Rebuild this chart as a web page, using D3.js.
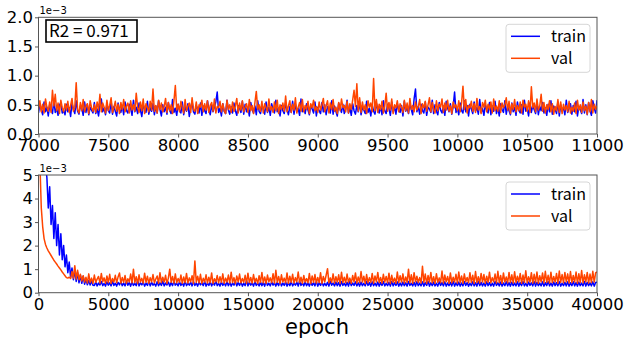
<!DOCTYPE html>
<html>
<head>
<meta charset="utf-8">
<script src="https://cdn.jsdelivr.net/npm/d3@7"></script>
<style>
  body { margin: 0; background: #fff; }
  svg { display: block; }
  text { font-family: "DejaVu Sans", sans-serif; fill: #000; }
</style>
</head>
<body>
<div id="chart"></div>
<script>
// loss values are in units of 1e-3
const topStart = 7000, topStep = 10;
const topTrain = [
  0.36,0.52,0.41,0.33,0.55,0.38,0.46,0.31,0.50,0.43,0.35,0.58,0.37,0.44,0.32,0.49,0.54,0.36,0.40,0.33,
  0.51,0.38,0.45,0.30,0.53,0.42,0.35,0.57,0.39,0.34,0.48,0.44,0.32,0.55,0.37,0.50,0.33,0.46,0.41,0.36,
  0.54,0.35,0.43,0.31,0.49,0.60,0.38,0.45,0.33,0.52,0.40,0.36,0.56,0.34,0.47,0.39,0.31,0.53,0.42,0.37,
  0.49,0.33,0.55,0.40,0.36,0.51,0.44,0.32,0.58,0.38,0.46,0.35,0.53,0.41,0.30,0.50,0.43,0.37,0.56,0.34,
  0.45,0.39,0.52,0.33,0.48,0.36,0.57,0.42,0.31,0.50,0.38,0.46,0.34,0.54,0.40,0.35,0.59,0.37,0.44,0.32,
  0.51,0.41,0.36,0.55,0.33,0.47,0.39,0.52,0.30,0.45,0.56,0.38,0.34,0.49,0.43,0.36,0.53,0.32,0.48,0.40,
  0.35,0.57,0.42,0.33,0.50,0.38,0.46,0.55,0.72,0.37,0.44,0.31,0.52,0.39,0.35,0.58,0.41,0.34,0.47,0.36,
  0.53,0.40,0.32,0.49,0.44,0.37,0.56,0.34,0.51,0.38,0.45,0.31,0.54,0.42,0.36,0.48,0.33,0.57,0.39,0.35,
  0.50,0.43,0.34,0.55,0.37,0.46,0.32,0.52,0.41,0.36,0.58,0.38,0.44,0.31,0.49,0.40,0.35,0.53,0.42,0.33,
  0.47,0.37,0.56,0.34,0.51,0.39,0.44,0.32,0.60,0.38,0.45,0.35,0.52,0.41,0.33,0.49,0.43,0.36,0.55,0.31,
  0.46,0.40,0.35,0.54,0.38,0.50,0.33,0.47,0.42,0.36,0.57,0.34,0.48,0.39,0.31,0.53,0.44,0.37,0.51,0.35,
  0.43,0.58,0.36,0.45,0.32,0.52,0.40,0.34,0.49,0.38,0.55,0.33,0.46,0.41,0.35,0.56,0.37,0.44,0.31,0.50,
  0.39,0.34,0.53,0.42,0.36,0.48,0.33,0.57,0.40,0.35,0.51,0.44,0.32,0.55,0.38,0.46,0.34,0.52,0.41,0.37,
  0.49,0.31,0.56,0.39,0.45,0.35,0.53,0.42,0.33,0.60,0.77,0.38,0.47,0.34,0.51,0.40,0.36,0.55,0.32,0.46,
  0.43,0.37,0.58,0.35,0.50,0.39,0.33,0.54,0.41,0.36,0.48,0.32,0.56,0.44,0.38,0.52,0.34,0.47,0.72,0.37,
  0.45,0.33,0.53,0.40,0.36,0.57,0.38,0.49,0.31,0.51,0.43,0.35,0.55,0.39,0.46,0.34,0.59,0.37,0.44,0.32,
  0.50,0.41,0.36,0.54,0.33,0.48,0.39,0.56,0.35,0.45,0.31,0.52,0.42,0.37,0.57,0.34,0.47,0.40,0.33,0.53,
  0.38,0.46,0.32,0.55,0.41,0.36,0.50,0.34,0.58,0.39,0.44,0.31,0.53,0.37,0.49,0.42,0.35,0.56,0.33,0.47,
  0.40,0.54,0.36,0.45,0.32,0.51,0.38,0.57,0.34,0.48,0.43,0.35,0.55,0.31,0.50,0.39,0.46,0.33,0.58,0.37,
  0.44,0.52,0.34,0.49,0.38,0.56,0.31,0.47,0.42,0.35,0.59,0.36,0.50,0.33,0.54,0.40,0.32,0.57,0.45,0.36,
  0.58
];
const topVal = [
  0.42,0.57,0.38,0.51,0.36,0.60,0.46,0.39,0.55,0.37,0.75,0.48,0.68,0.40,0.53,0.35,0.58,0.45,0.38,0.52,
  0.41,0.56,0.37,0.49,0.61,0.39,0.46,0.88,0.42,0.36,0.54,0.40,0.59,0.38,0.47,0.52,0.35,0.57,0.45,0.39,
  0.50,0.37,0.55,0.41,0.68,0.38,0.53,0.46,0.36,0.58,0.40,0.49,0.62,0.37,0.45,0.56,0.39,0.51,0.35,0.54,
  0.42,0.59,0.38,0.48,0.53,0.36,0.57,0.41,0.50,0.39,0.70,0.46,0.37,0.55,0.40,0.60,0.35,0.52,0.45,0.38,
  0.56,0.41,0.77,0.39,0.49,0.36,0.58,0.42,0.53,0.38,0.47,0.61,0.37,0.54,0.40,0.50,0.35,0.57,0.83,0.41,
  0.51,0.38,0.56,0.45,0.36,0.59,0.40,0.48,0.53,0.37,0.62,0.42,0.39,0.55,0.35,0.50,0.46,0.58,0.38,0.52,
  0.41,0.57,0.37,0.49,0.54,0.39,0.60,0.36,0.47,0.45,0.56,0.38,0.52,0.40,0.35,0.58,0.42,0.50,0.37,0.55,
  0.39,0.48,0.61,0.36,0.53,0.41,0.57,0.38,0.46,0.52,0.37,0.59,0.40,0.49,0.35,0.54,0.73,0.42,0.50,0.39,
  0.56,0.36,0.52,0.45,0.38,0.60,0.41,0.47,0.37,0.55,0.40,0.58,0.35,0.50,0.42,0.53,0.39,0.65,0.38,0.48,
  0.57,0.37,0.51,0.41,0.62,0.36,0.46,0.54,0.39,0.59,0.38,0.49,0.42,0.56,0.35,0.52,0.45,0.58,0.40,0.47,
  0.37,0.55,0.41,0.50,0.61,0.38,0.48,0.57,0.36,0.53,0.42,0.59,0.39,0.46,0.35,0.54,0.40,0.60,0.45,0.49,
  0.38,0.56,0.36,0.52,0.42,0.58,0.75,0.47,0.86,0.39,0.62,0.37,0.55,0.41,0.50,0.35,0.57,0.46,0.53,0.38,
  0.95,0.40,0.59,0.37,0.51,0.42,0.56,0.36,0.48,0.70,0.39,0.54,0.41,0.60,0.35,0.50,0.45,0.57,0.38,0.52,
  0.46,0.37,0.58,0.40,0.53,0.36,0.61,0.42,0.49,0.38,0.55,0.41,0.47,0.59,0.35,0.52,0.45,0.56,0.39,0.50,
  0.62,0.38,0.54,0.42,0.36,0.57,0.40,0.51,0.46,0.60,0.37,0.53,0.41,0.58,0.39,0.48,0.35,0.55,0.45,0.50,
  0.40,0.57,0.38,0.53,0.82,0.42,0.59,0.36,0.49,0.45,0.56,0.39,0.52,0.37,0.61,0.41,0.47,0.35,0.54,0.46,
  0.58,0.38,0.51,0.42,0.55,0.36,0.60,0.40,0.48,0.39,0.57,0.37,0.53,0.45,0.50,0.62,0.41,0.56,0.35,0.52,
  0.42,0.59,0.38,0.49,0.40,0.55,0.36,0.58,0.46,0.51,0.39,0.57,0.37,0.81,0.45,0.53,0.38,0.60,0.41,0.48,
  0.68,0.39,0.54,0.36,0.50,0.42,0.57,0.38,0.52,0.34,0.47,0.40,0.59,0.37,0.55,0.35,0.51,0.41,0.49,0.38,
  0.56,0.36,0.46,0.39,0.53,0.35,0.58,0.41,0.50,0.37,0.55,0.40,0.48,0.34,0.54,0.38,0.59,0.36,0.51,0.42,
  0.49
];

const bottomStart = 0, bottomStep = 100;
const bottomTrain = [
  12.0,10.0,8.5,7.2,6.2,5.4,4.9,3.6,4.5,2.9,3.7,2.3,3.4,2.0,2.9,1.6,2.5,1.4,2.0,1.1,
  1.6,0.85,1.3,0.65,1.05,0.55,0.95,0.48,0.85,0.42,0.75,0.40,0.70,0.36,0.58,0.34,0.52,0.33,0.50,0.32,
  0.31,0.45,0.29,0.41,0.33,0.48,0.30,0.39,0.28,0.46,0.32,0.42,0.29,0.50,0.31,0.40,0.28,0.44,0.33,0.47,
  0.30,0.41,0.29,0.49,0.32,0.43,0.28,0.46,0.31,0.39,0.30,0.52,0.29,0.42,0.33,0.45,0.28,0.40,0.31,0.48,
  0.29,0.44,0.32,0.39,0.28,0.47,0.30,0.42,0.31,0.50,0.29,0.41,0.33,0.45,0.28,0.43,0.30,0.48,0.32,0.40,
  0.29,0.46,0.31,0.42,0.28,0.49,0.30,0.40,0.32,0.44,0.29,0.47,0.31,0.41,0.28,0.45,0.33,0.43,0.30,0.48,
  0.28,0.41,0.31,0.46,0.29,0.43,0.32,0.50,0.30,0.40,0.28,0.45,0.31,0.42,0.29,0.47,0.30,0.44,0.28,0.41,
  0.32,0.48,0.29,0.43,0.31,0.46,0.28,0.40,0.30,0.51,0.29,0.44,0.32,0.42,0.28,0.47,0.31,0.41,0.29,0.45,
  0.30,0.43,0.28,0.49,0.31,0.40,0.29,0.46,0.32,0.42,0.28,0.44,0.30,0.48,0.29,0.41,0.31,0.45,0.28,0.43,
  0.30,0.47,0.29,0.40,0.32,0.44,0.28,0.50,0.31,0.42,0.29,0.46,0.30,0.41,0.28,0.45,0.31,0.43,0.29,0.48,
  0.28,0.42,0.31,0.46,0.29,0.40,0.30,0.44,0.28,0.49,0.32,0.41,0.29,0.45,0.30,0.43,0.28,0.47,0.31,0.40,
  0.29,0.44,0.28,0.48,0.30,0.41,0.31,0.46,0.29,0.42,0.28,0.45,0.30,0.40,0.29,0.49,0.31,0.43,0.28,0.46,
  0.30,0.41,0.29,0.45,0.28,0.43,0.31,0.47,0.29,0.40,0.30,0.44,0.28,0.48,0.29,0.42,0.31,0.46,0.28,0.41,
  0.29,0.45,0.30,0.42,0.28,0.48,0.31,0.40,0.29,0.44,0.28,0.47,0.30,0.41,0.29,0.46,0.28,0.43,0.31,0.49,
  0.28,0.42,0.30,0.45,0.29,0.40,0.28,0.47,0.31,0.43,0.29,0.46,0.28,0.41,0.30,0.44,0.29,0.48,0.28,0.42,
  0.30,0.45,0.28,0.41,0.29,0.47,0.31,0.43,0.28,0.40,0.30,0.46,0.29,0.42,0.28,0.49,0.30,0.44,0.29,0.41,
  0.28,0.46,0.30,0.43,0.29,0.40,0.28,0.48,0.31,0.42,0.29,0.45,0.28,0.41,0.30,0.47,0.29,0.43,0.28,0.44,
  0.30,0.41,0.29,0.46,0.28,0.43,0.30,0.48,0.29,0.40,0.28,0.45,0.31,0.42,0.29,0.47,0.28,0.44,0.30,0.41,
  0.29,0.46,0.28,0.42,0.30,0.48,0.29,0.41,0.28,0.45,0.30,0.43,0.29,0.47,0.28,0.40,0.30,0.44,0.29,0.46,
  0.28,0.42,0.30,0.47,0.29,0.43,0.28,0.45,0.30,0.41,0.29,0.48,0.28,0.44,0.30,0.42,0.29,0.46,0.28,0.43,
  0.45
];
const bottomVal = [
  9.0,5.5,3.6,2.8,2.3,2.05,1.9,1.78,1.68,1.58,1.48,1.38,1.30,1.22,1.13,1.05,0.97,0.88,0.80,0.72,
  0.64,0.62,0.66,0.60,0.90,0.62,1.15,0.58,0.95,0.55,0.78,0.50,0.72,0.45,0.66,0.41,0.80,0.43,0.62,0.40,
  0.75,0.44,0.58,0.69,0.41,0.82,0.46,0.63,0.40,0.71,0.43,0.78,0.39,0.60,0.45,0.74,0.42,0.67,0.84,0.41,
  0.65,0.44,0.73,0.40,0.59,0.46,0.79,0.42,1.00,0.43,0.68,0.39,0.76,0.45,0.61,0.41,0.83,0.44,0.70,0.40,
  0.64,0.46,0.77,0.42,0.58,0.71,0.40,0.85,0.43,0.66,0.45,0.74,0.39,0.62,1.00,0.44,0.69,0.41,0.80,0.42,
  0.60,0.45,0.75,0.40,0.67,0.43,0.82,0.41,0.63,0.46,0.72,0.39,1.35,0.44,0.70,0.42,0.78,0.40,0.61,0.45,
  0.76,0.41,0.66,0.43,0.84,0.39,0.59,0.46,0.73,0.42,0.68,0.44,0.80,0.40,0.62,0.45,0.75,0.41,0.87,0.43,
  0.64,0.39,0.71,0.46,0.79,0.42,0.60,0.44,0.74,0.40,0.83,0.43,0.65,0.41,0.77,0.45,0.61,0.39,0.72,0.44,
  0.86,0.42,0.67,0.40,0.75,0.46,0.63,0.43,0.81,0.41,0.95,0.44,0.69,0.39,0.76,0.45,0.62,0.42,0.84,0.40,
  0.70,0.44,0.78,0.41,0.64,0.46,0.88,0.43,0.66,0.40,0.73,0.45,0.60,0.42,0.82,0.39,0.71,0.44,0.77,0.41,
  0.65,0.43,0.85,0.40,0.69,0.46,0.74,1.02,0.42,0.63,0.44,0.80,0.41,0.68,0.45,0.76,0.39,0.87,0.43,0.66,
  0.42,0.79,0.44,0.62,0.40,0.73,0.46,0.84,0.41,0.67,0.43,0.90,0.45,0.70,0.39,0.77,0.42,0.64,0.44,0.82,
  0.40,0.71,0.46,0.86,0.43,0.65,0.41,0.78,0.45,0.69,0.42,0.83,0.39,0.74,0.44,0.62,0.40,0.88,0.43,0.72,
  0.45,0.80,0.41,0.67,0.44,1.00,0.42,0.76,0.40,0.85,0.46,0.70,0.43,0.64,0.41,1.12,0.44,0.79,0.39,0.73,
  0.45,0.86,0.42,0.68,0.40,0.81,0.44,0.63,0.43,0.92,0.41,0.75,0.46,0.69,0.40,0.84,0.42,0.66,0.45,0.78,
  0.41,0.88,0.43,0.71,0.40,0.80,0.46,0.65,0.42,0.85,0.44,0.74,0.39,0.90,0.43,0.68,0.41,0.82,0.45,0.77,
  0.40,0.70,0.44,0.87,0.42,0.64,0.46,0.79,0.41,0.91,0.43,0.73,0.40,0.84,0.45,0.67,0.42,0.86,0.44,0.76,
  0.41,0.89,0.43,0.70,0.46,0.82,0.40,0.75,0.44,0.93,0.42,0.68,0.45,0.85,0.41,0.78,0.43,0.88,0.40,0.72,
  0.46,0.84,0.42,0.91,0.44,0.74,0.41,0.87,0.43,0.69,0.45,0.82,0.40,0.92,0.44,0.77,0.42,0.86,0.46,0.80,
  0.41,0.90,0.43,0.73,0.45,0.88,0.40,0.81,0.44,0.94,0.42,0.76,0.46,0.86,0.41,0.79,0.43,0.91,0.45,0.84,
  0.88
];

const topXTicks = [7000, 7500, 8000, 8500, 9000, 9500, 10000, 10500, 11000];
const topYTicks = [0.0, 0.5, 1.0, 1.5, 2.0];
const bottomXTicks = [0, 5000, 10000, 15000, 20000, 25000, 30000, 35000, 40000];
const bottomYTicks = [0, 1, 2, 3, 4, 5];
const seriesNames = ['train', 'val'];
const colors = { train: '#0000ff', val: '#ff4500' };
const r2Text = 'R2 = 0.971';

const W = 625, H = 342;
const svg = d3.select('#chart').append('svg').attr('width', W).attr('height', H);

function toPoints(values, start, step) {
  return values.map((v, i) => ({ x: start + i * step, y: v }));
}

function drawPanel(opts) {
  const { id, top, bottom, xDomain, yDomain, xTicks, yTicks, yFmt, train, val, start, step } = opts;
  const left = 38.5, right = 597;
  const x = d3.scaleLinear().domain(xDomain).range([left, right]);
  const y = d3.scaleLinear().domain(yDomain).range([bottom, top]);

  svg.append('clipPath').attr('id', id)
    .append('rect').attr('x', left).attr('y', top)
    .attr('width', right - left).attr('height', bottom - top);

  const line = d3.line().x(d => x(d.x)).y(d => y(d.y));
  const plot = svg.append('g').attr('clip-path', `url(#${id})`);
  plot.append('path').datum(toPoints(train, start, step))
    .attr('fill', 'none').attr('stroke', colors.train).attr('stroke-width', 1.5)
    .attr('stroke-linejoin', 'round').attr('d', line);
  plot.append('path').datum(toPoints(val, start, step))
    .attr('fill', 'none').attr('stroke', colors.val).attr('stroke-width', 1.5)
    .attr('stroke-linejoin', 'round').attr('d', line);

  // frame
  svg.append('rect').attr('x', left).attr('y', top)
    .attr('width', right - left).attr('height', bottom - top)
    .attr('fill', 'none').attr('stroke', '#555').attr('stroke-width', 1);

  const xAxis = svg.append('g').attr('transform', `translate(0,${bottom})`)
    .call(d3.axisBottom(x).tickValues(xTicks).tickSize(3.5).tickPadding(2).tickFormat(d3.format('d')));
  xAxis.select('.domain').remove();
  xAxis.selectAll('line').attr('stroke', '#555');
  xAxis.selectAll('text').attr('font-size', 16.5).style('font-family', '"DejaVu Sans", sans-serif');

  const yAxis = svg.append('g').attr('transform', `translate(${left},0)`)
    .call(d3.axisLeft(y).tickValues(yTicks).tickSize(3.5).tickPadding(2).tickFormat(yFmt));
  yAxis.select('.domain').remove();
  yAxis.selectAll('line').attr('stroke', '#555');
  yAxis.selectAll('text').attr('font-size', 16.5).style('font-family', '"DejaVu Sans", sans-serif');

  svg.append('text').attr('x', left + 1).attr('y', top - 3)
    .attr('font-size', 10).text('1e\u22123');

  // legend
  const lg = svg.append('g').attr('transform', `translate(506,${top + 7})`);
  lg.append('rect').attr('width', 84).attr('height', 48).attr('rx', 3)
    .attr('fill', '#fff').attr('fill-opacity', 0.8)
    .attr('stroke', '#d6d6d6').attr('stroke-width', 1);
  seriesNames.forEach((name, i) => {
    const ly = 12 + i * 22;
    lg.append('line').attr('x1', 5).attr('x2', 34).attr('y1', ly).attr('y2', ly)
      .attr('stroke', colors[name]).attr('stroke-width', 1.5);
    lg.append('text').attr('x', 45).attr('y', ly).attr('dy', '0.35em')
      .attr('font-size', 16).style('font-family', '"Noto Sans CJK JP", sans-serif').text(name);
  });
  return { x, y };
}

drawPanel({
  id: 'clipTop', top: 17.3, bottom: 134,
  xDomain: [7000, 11000], yDomain: [0, 2],
  xTicks: topXTicks, yTicks: topYTicks, yFmt: d3.format('.1f'),
  train: topTrain, val: topVal, start: topStart, step: topStep
});

drawPanel({
  id: 'clipBottom', top: 175, bottom: 292.7,
  xDomain: [0, 40000], yDomain: [0, 5],
  xTicks: bottomXTicks, yTicks: bottomYTicks, yFmt: d3.format('d'),
  train: bottomTrain, val: bottomVal, start: bottomStart, step: bottomStep
});

// R2 box
const r2 = svg.append('g');
r2.append('rect').attr('x', 46).attr('y', 20).attr('width', 91).attr('height', 22)
  .attr('fill', '#fff').attr('stroke', '#000').attr('stroke-width', 1.6);
r2.append('text').attr('x', 49).attr('y', 31).attr('dy', '0.35em')
  .attr('font-size', 17).style('font-family', '"Noto Sans CJK JP", sans-serif').text(r2Text);

svg.append('text').attr('x', 317).attr('y', 334).attr('text-anchor', 'middle')
  .attr('font-size', 21).text('epoch');
</script>
</body>
</html>
